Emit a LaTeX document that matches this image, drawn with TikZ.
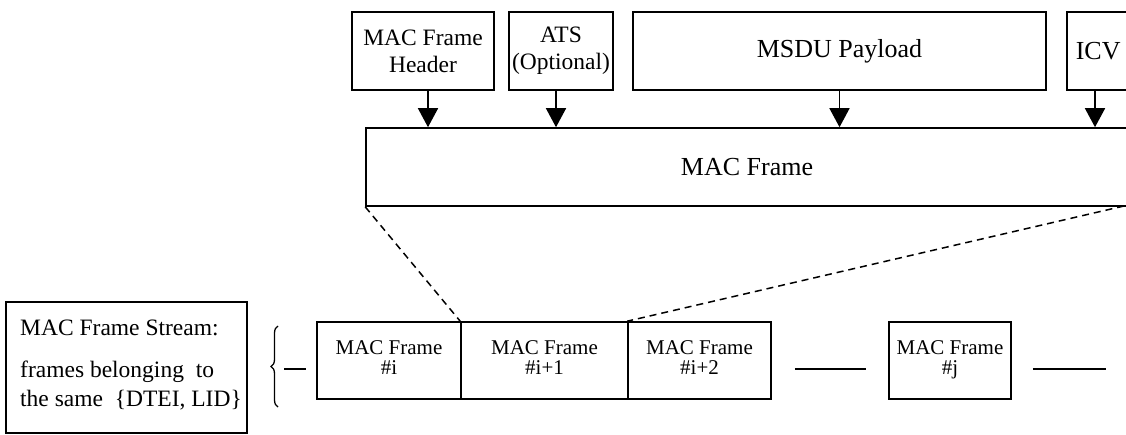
\documentclass[tikz,border=0pt]{standalone}
\usepackage{fontspec}
\setmainfont{Liberation Serif}
\usetikzlibrary{arrows.meta,decorations.pathreplacing}
\begin{document}
\begin{tikzpicture}[x=1pt,y=-1pt,
  box/.style={draw, line width=1.6pt, inner sep=0pt, align=center},
  topf/.style={font=\fontsize{23.5}{27}\selectfont},
  bigf/.style={font=\fontsize{26}{30}\selectfont},
  botf/.style={font=\fontsize{21}{20}\selectfont},
  arr/.style={line width=1.6pt, -{Triangle[width=20pt,length=19pt]}},
  dsh/.style={line width=1.5pt, dash pattern=on 7pt off 5pt},
  ln/.style={line width=1.6pt}]
\useasboundingbox (0,0) rectangle (1126,435);
\fill[white] (0,0) rectangle (1126,435);
\clip (0,0) rectangle (1126,435);
% top boxes
\node[box, topf, minimum width=142pt, minimum height=78pt] (hdr) at (423,51) {MAC Frame\\Header};
\node[box, topf, minimum width=104pt, minimum height=78pt] (ats) at (561,51) {ATS\\(Optional)};
\node[box, bigf, minimum width=413pt, minimum height=78pt] (msdu) at (839.5,51) {MSDU Payload};
\node[box, bigf, minimum height=78pt, anchor=west, text width=62pt, inner xsep=9pt, align=left] (icv) at (1066,51) {ICV};
% MAC frame
\node[box, bigf, minimum width=762pt, minimum height=78pt] (mac) at (747,167) {MAC Frame};
% arrows
\draw[arr] ([xshift=5pt]hdr.south) -- ([xshift=5pt]hdr.south |- mac.north);
\draw[arr] ([xshift=-5pt]ats.south) -- ([xshift=-5pt]ats.south |- mac.north);
\draw[arr] (msdu.south) -- (msdu.south |- mac.north);
\coordinate (icvb) at (1095,90);
\draw[arr] (icvb) -- (icvb |- mac.north);
% bottom frames
\node[box, botf, minimum width=144pt, minimum height=77pt] (f1) at (389,360.5) {MAC Frame\\\#i\strut};
\node[box, botf, minimum width=167pt, minimum height=77pt] (f2) at (544.5,360.5) {MAC Frame\\\#i+1\strut};
\node[box, botf, minimum width=143pt, minimum height=77pt] (f3) at (699.5,360.5) {MAC Frame\\\#i+2\strut};
\node[box, botf, minimum width=122pt, minimum height=77pt] (fj) at (950,360.5) {MAC Frame\\\#j\strut};
% dashed expansion lines
\coordinate (macbr) at (1124,206);
\draw[dsh] (mac.south west) -- (f2.north west);
\draw[dsh] (macbr) -- (f3.north west);
% stream lines
\coordinate (endl) at (1106,369);
\draw[ln] ([xshift=23pt,yshift=-8.5pt]f3.east) -- ([xshift=-22pt,yshift=-8.5pt]fj.west);
\draw[ln] ([xshift=21pt,yshift=-8.5pt]fj.east) -- (endl);
\coordinate (brl) at (284,369);
\draw[ln] (brl) -- ([xshift=-10pt,yshift=-8.5pt]f1.west);
% brace
\draw[line width=1.3pt, decorate, decoration={brace, amplitude=7pt}] (278,407) -- (278,326);
% stream box
\node[box, minimum width=241pt, minimum height=131pt] (stream) at (126.5,367.5) {};
\node[anchor=base west, inner sep=0pt, font=\fontsize{23.5}{26}\selectfont] (st1) at (20,335) {MAC Frame Stream:};
\node[anchor=base west, inner sep=0pt, font=\fontsize{23.5}{26}\selectfont] (st2) at (20,377) {frames belonging~ to};
\node[anchor=base west, inner sep=0pt, font=\fontsize{23.5}{26}\selectfont] (st3) at (20,406) {the same~~\{DTEI, LID\}};
\end{tikzpicture}
\end{document}
